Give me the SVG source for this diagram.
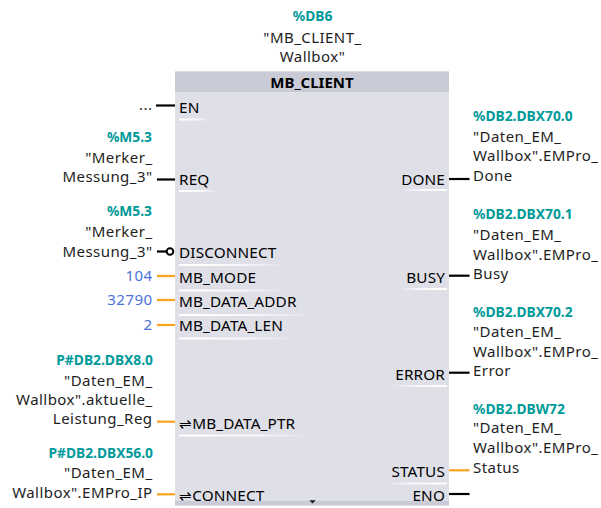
<svg xmlns="http://www.w3.org/2000/svg" width="601" height="508" viewBox="0 0 601 508">
  <style>
    text { font-family: "Noto Sans", "Liberation Sans", sans-serif; }
    .pin { font-size: 15.3px; fill: #000; letter-spacing: 0.15px; }
    .hdr { font-size: 15px; font-weight: bold; fill: #000; }
    .opd { font-size: 15px; fill: #1e1e1e; letter-spacing: 0.45px; }
    .adr { font-size: 13.8px; font-weight: bold; fill: #009a9a; }
    .num { font-size: 15px; fill: #4a72d8; letter-spacing: 0.45px; }
    .end { text-anchor: end; }
    .mid { text-anchor: middle; }
    .w-bool { stroke: #000; stroke-width: 2.2; fill: none; }
    .w-data { stroke: #f7a51c; stroke-width: 2.2; fill: none; }
    .ulL { fill: url(#fadeR); }
    .ulR { fill: url(#fadeL); }
  </style>
  <defs>
    <linearGradient id="fadeR" x1="0" y1="0" x2="1" y2="0">
      <stop offset="0" stop-color="#fff" stop-opacity="1"/>
      <stop offset="0.55" stop-color="#fff" stop-opacity="0.8"/>
      <stop offset="1" stop-color="#fff" stop-opacity="0"/>
    </linearGradient>
    <linearGradient id="fadeL" x1="0" y1="0" x2="1" y2="0">
      <stop offset="0" stop-color="#fff" stop-opacity="0"/>
      <stop offset="0.45" stop-color="#fff" stop-opacity="0.8"/>
      <stop offset="1" stop-color="#fff" stop-opacity="1"/>
    </linearGradient>
  </defs>

  <!-- instance data block -->
  <g id="instance-db">
    <text class="adr mid" x="312.5" y="20.7">%DB6</text>
    <text class="opd mid" x="312.5" y="42.5">"MB_CLIENT_</text>
    <text class="opd mid" x="312.5" y="62">Wallbox"</text>
  </g>

  <!-- function block body -->
  <g id="block">
    <rect x="175" y="71.5" width="274" height="434" fill="#dfdfe8"/>
    <rect x="175" y="71.5" width="274" height="20.5" fill="#c9cbd7"/>
    <text class="hdr mid" x="312" y="88.3">MB_CLIENT</text>
    <rect x="175" y="501" width="274" height="4.5" fill="#c9cbd7"/>
    <path d="M309.3 500.3 H315.7 L312.5 503.5 Z" fill="#1a1a1a"/>
  </g>

  <!-- connectors -->
  <g id="connectors">
    <line class="w-bool" x1="156" y1="105.5" x2="175" y2="105.5"/>
    <line class="w-bool" x1="157" y1="179.5" x2="175" y2="179.5"/>
    <line class="w-bool" x1="157" y1="251.5" x2="166" y2="251.5"/>
    <circle cx="170" cy="251.5" r="3.3" fill="#fff" stroke="#000" stroke-width="2"/>
    <line class="w-data" x1="157" y1="276" x2="175" y2="276"/>
    <line class="w-data" x1="157" y1="300" x2="175" y2="300"/>
    <line class="w-data" x1="157" y1="325" x2="175" y2="325"/>
    <line class="w-data" x1="157" y1="421.7" x2="175" y2="421.7"/>
    <line class="w-data" x1="157" y1="494.3" x2="175" y2="494.3"/>
    <line class="w-bool" x1="449" y1="179" x2="469.5" y2="179"/>
    <line class="w-bool" x1="449" y1="275.7" x2="469.5" y2="275.7"/>
    <line class="w-bool" x1="449" y1="372.7" x2="469.5" y2="372.7"/>
    <line class="w-data" x1="449" y1="470.3" x2="469.5" y2="470.3"/>
    <line class="w-bool" x1="449" y1="494" x2="469.5" y2="494"/>
  </g>

  <!-- input pins -->
  <g id="pin-EN">
    <text class="opd end" x="152.5" y="110">...</text>
    <text class="pin" x="179" y="113">EN</text>
    <rect class="ulL" x="179" y="118.5" width="30" height="2"/>
  </g>
  <g id="pin-REQ">
    <text class="adr end" x="152" y="142">%M5.3</text>
    <text class="opd end" x="152.5" y="162.5">"Merker_</text>
    <text class="opd end" x="152.5" y="182.3">Messung_3"</text>
    <text class="pin" x="179" y="185">REQ</text>
    <rect class="ulL" x="179" y="190" width="40" height="2"/>
  </g>
  <g id="pin-DISCONNECT">
    <text class="adr end" x="152" y="215.5">%M5.3</text>
    <text class="opd end" x="152.5" y="236.5">"Merker_</text>
    <text class="opd end" x="152.5" y="256.5">Messung_3"</text>
    <text class="pin" x="179" y="258.3">DISCONNECT</text>
    <rect class="ulL" x="179" y="264" width="105" height="2"/>
  </g>
  <g id="pin-MB_MODE">
    <text class="num end" x="152.5" y="281">104</text>
    <text class="pin" x="179" y="282.7">MB_MODE</text>
    <rect class="ulL" x="179" y="289.5" width="110" height="2"/>
  </g>
  <g id="pin-MB_DATA_ADDR">
    <text class="num end" x="152.5" y="305">32790</text>
    <text class="pin" x="179" y="306.7">MB_DATA_ADDR</text>
    <rect class="ulL" x="179" y="314" width="135" height="2"/>
  </g>
  <g id="pin-MB_DATA_LEN">
    <text class="num end" x="152.5" y="330">2</text>
    <text class="pin" x="179" y="330.7">MB_DATA_LEN</text>
    <rect class="ulL" x="179" y="337.5" width="120" height="2"/>
  </g>
  <g id="pin-MB_DATA_PTR">
    <text class="adr end" x="153" y="364.5">P#DB2.DBX8.0</text>
    <text class="opd end" x="152.5" y="386">"Daten_EM_</text>
    <text class="opd end" x="152.5" y="405">Wallbox".aktuelle_</text>
    <text class="opd end" x="152.5" y="424">Leistung_Reg</text>
    <text class="pin" x="179" y="429">⇌MB_DATA_PTR</text>
    <rect class="ulL" x="179" y="434.5" width="135" height="2"/>
  </g>
  <g id="pin-CONNECT">
    <text class="adr end" x="153" y="458.3">P#DB2.DBX56.0</text>
    <text class="opd end" x="152.5" y="478">"Daten_EM_</text>
    <text class="opd end" x="152.5" y="497.5">Wallbox".EMPro_IP</text>
    <text class="pin" x="179" y="500.5">⇌CONNECT</text>
  </g>

  <!-- output pins -->
  <g id="pin-DONE">
    <text class="adr" x="473" y="121">%DB2.DBX70.0</text>
    <text class="opd" x="473" y="141.7">"Daten_EM_</text>
    <text class="opd" x="473" y="161">Wallbox".EMPro_</text>
    <text class="opd" x="473" y="180.5">Done</text>
    <text class="pin end" x="445" y="185">DONE</text>
    <rect class="ulR" x="400" y="189" width="47" height="2"/>
  </g>
  <g id="pin-BUSY">
    <text class="adr" x="473" y="219">%DB2.DBX70.1</text>
    <text class="opd" x="473" y="240">"Daten_EM_</text>
    <text class="opd" x="473" y="259.5">Wallbox".EMPro_</text>
    <text class="opd" x="473" y="279">Busy</text>
    <text class="pin end" x="445" y="283">BUSY</text>
    <rect class="ulR" x="400" y="288" width="47" height="2"/>
  </g>
  <g id="pin-ERROR">
    <text class="adr" x="473" y="317.3">%DB2.DBX70.2</text>
    <text class="opd" x="473" y="336.7">"Daten_EM_</text>
    <text class="opd" x="473" y="356.5">Wallbox".EMPro_</text>
    <text class="opd" x="473" y="376.3">Error</text>
    <text class="pin end" x="445" y="380">ERROR</text>
    <rect class="ulR" x="392" y="385" width="55" height="2"/>
  </g>
  <g id="pin-STATUS">
    <text class="adr" x="473" y="414">%DB2.DBW72</text>
    <text class="opd" x="473" y="433.3">"Daten_EM_</text>
    <text class="opd" x="473" y="453">Wallbox".EMPro_</text>
    <text class="opd" x="473" y="472.5">Status</text>
    <text class="pin end" x="445" y="476.7">STATUS</text>
    <rect class="ulR" x="385" y="482.5" width="62" height="2"/>
  </g>
  <g id="pin-ENO">
    <text class="pin end" x="445" y="501">ENO</text>
  </g>
</svg>
